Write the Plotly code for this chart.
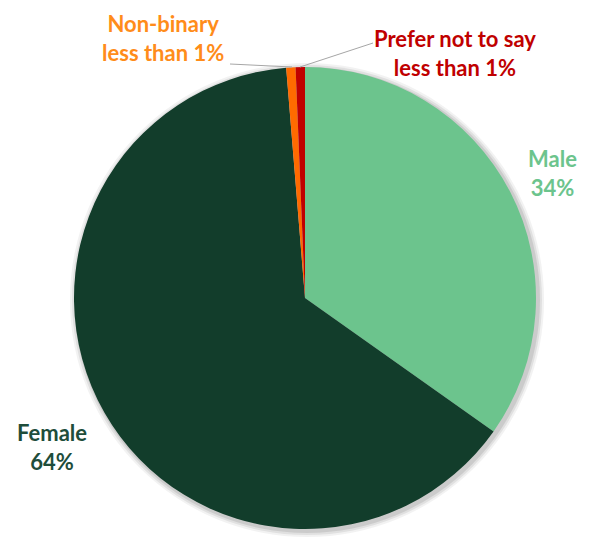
import plotly.graph_objects as go

categories = ["Male", "Female", "Non-binary", "Prefer not to say"]
values = [34.8, 63.9, 0.65, 0.65]
label_texts = ["Male<br>34%", "Female<br>64%", "Non-binary<br>less than 1%", "Prefer not to say<br>less than 1%"]

slice_colors = ["#6CC48D", "#123D2B", "#FF6A00", "#C00000"]
label_colors = ["#6CC48D", "#1E4D3B", "#FF8C1A", "#C00000"]

W, H = 596, 541
OFF = 8  # page body margin
cx, cy, r = 305, 298, 231

def px(x):
    return (x - OFF) / W

def py(y):
    return 1 - (y - OFF) / H

fig = go.Figure()

# soft shadow
for off, alpha in [(6, 0.05), (4, 0.07), (2, 0.09)]:
    fig.add_trace(go.Pie(
        values=[1], marker=dict(colors=[f"rgba(0,0,0,{alpha})"], line=dict(width=0)),
        textinfo="none", hoverinfo="skip", showlegend=False, sort=False,
        domain=dict(x=[px(cx - r - off + 2), px(cx + r + off + 2)],
                    y=[py(cy + r + off + 2), py(cy - r - off + 2)]),
    ))

fig.add_trace(go.Pie(
    labels=categories, values=values, sort=False, direction="clockwise", rotation=0,
    marker=dict(colors=slice_colors, line=dict(width=0)),
    textinfo="none", showlegend=False,
    domain=dict(x=[px(cx - r), px(cx + r)], y=[py(cy + r), py(cy - r)]),
))

label_pos = [(552, 173), (52, 447), (163, 38), (455, 53)]
for (x, y), t, c in zip(label_pos, label_texts, label_colors):
    fig.add_annotation(x=px(x), y=py(y), xref="paper", yref="paper", text=t,
                       showarrow=False, xanchor="center", yanchor="middle",
                       font=dict(family="Lato", size=22, color=c, weight="bold"))

# leader lines
fig.add_shape(type="line", xref="paper", yref="paper",
              x0=px(230), y0=py(64), x1=px(292), y1=py(67),
              line=dict(color="#A6A6A6", width=1))
fig.add_shape(type="line", xref="paper", yref="paper",
              x0=px(300), y0=py(67), x1=px(373), y1=py(43),
              line=dict(color="#A6A6A6", width=1))

fig.update_layout(width=W, height=H, margin=dict(l=0, r=0, t=0, b=0),
                  paper_bgcolor="white", plot_bgcolor="white")

fig.write_html("out.html")
